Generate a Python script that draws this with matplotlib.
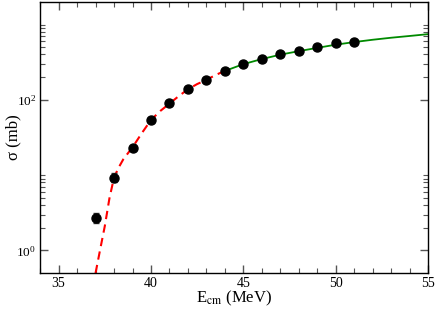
import matplotlib
matplotlib.use('Agg')
import matplotlib.pyplot as plt
from matplotlib.ticker import FixedLocator, LogFormatterSciNotation, NullFormatter, MultipleLocator
import numpy as np

plt.rcParams['font.family'] = ['Liberation Serif', 'DejaVu Serif']
plt.rcParams['mathtext.fontset'] = 'stix'

# measured cross sections
e_data = [37, 38, 39, 40, 41, 42, 43, 44, 45, 46, 47, 48, 49, 50, 51]
sig_data = [2.7, 9.3, 23, 54, 90, 140, 184, 242, 302, 346, 403, 446, 503, 563, 590]
sig_err = [0.4, 1.3, 1.5, 3, 4, 6, 8, 10, 12, 14, 16, 18, 20, 22, 24]

# red dashed calculation (below barrier)
e_red = [37.0, 37.25, 37.5, 37.75, 38.0, 38.25, 38.5, 38.75, 39.0, 39.5, 40.0,
         40.5, 41.0, 41.5, 42.0, 42.5, 43.0, 43.5, 44.0]
sig_red = [0.5, 1.03, 2.1, 4.9, 9.3, 12.6, 16.2, 19.5, 23.4, 36, 54,
           71, 89, 112, 138, 162, 184, 214, 242]

# green solid calculation (above barrier)
e_green = [44, 45, 46, 47, 48, 49, 50, 51, 52, 53, 54, 55]
sig_green = [242, 298, 348, 398, 443, 490, 540, 585, 628, 668, 705, 745]

fig = plt.figure(figsize=(4.36, 3.10), dpi=100)
ax = fig.add_axes([0.092, 0.119, 0.890, 0.875])

ax.plot(e_red, sig_red, color='red', lw=1.5, ls=(0, (4, 2.6)), zorder=2)
ax.plot(e_green, sig_green, color='#008a00', lw=1.3, zorder=2)
ax.errorbar(e_data, sig_data, yerr=sig_err, fmt='o', color='black', ms=6.5,
            ecolor='#333333', elinewidth=1.0, capsize=2.5, capthick=1.0, zorder=3)

ax.set_yscale('log')
ax.set_xlim(34, 55)
ax.set_ylim(0.5, 2000)

ax.xaxis.set_major_locator(MultipleLocator(5))
ax.xaxis.set_minor_locator(MultipleLocator(1))
ax.yaxis.set_major_locator(FixedLocator([1, 100]))
ax.yaxis.set_major_formatter(LogFormatterSciNotation())
minors = [k * 1.0 for k in range(2, 11)] + [k * 100.0 for k in range(2, 11)]
ax.yaxis.set_minor_locator(FixedLocator(minors))
ax.yaxis.set_minor_formatter(NullFormatter())

ax.tick_params(which='both', direction='in', top=True, right=True,
               color='#555555', labelsize=10)
ax.tick_params(axis='x', pad=2.5)
ax.tick_params(axis='y', labelsize=9.5, pad=3)
ax.tick_params(which='major', length=6, width=1.0)
ax.tick_params(which='minor', length=3.5, width=0.8)
for s in ax.spines.values():
    s.set_linewidth(1.0)

ax.set_xlabel(r'E$_{\rm cm}$ (MeV)', fontsize=12)
ax.xaxis.set_label_coords(0.5, -0.058)
ax.set_ylabel('σ (mb)', fontsize=12)
ax.yaxis.set_label_coords(-0.047, 0.5)

fig.savefig('out.png', dpi=100)
